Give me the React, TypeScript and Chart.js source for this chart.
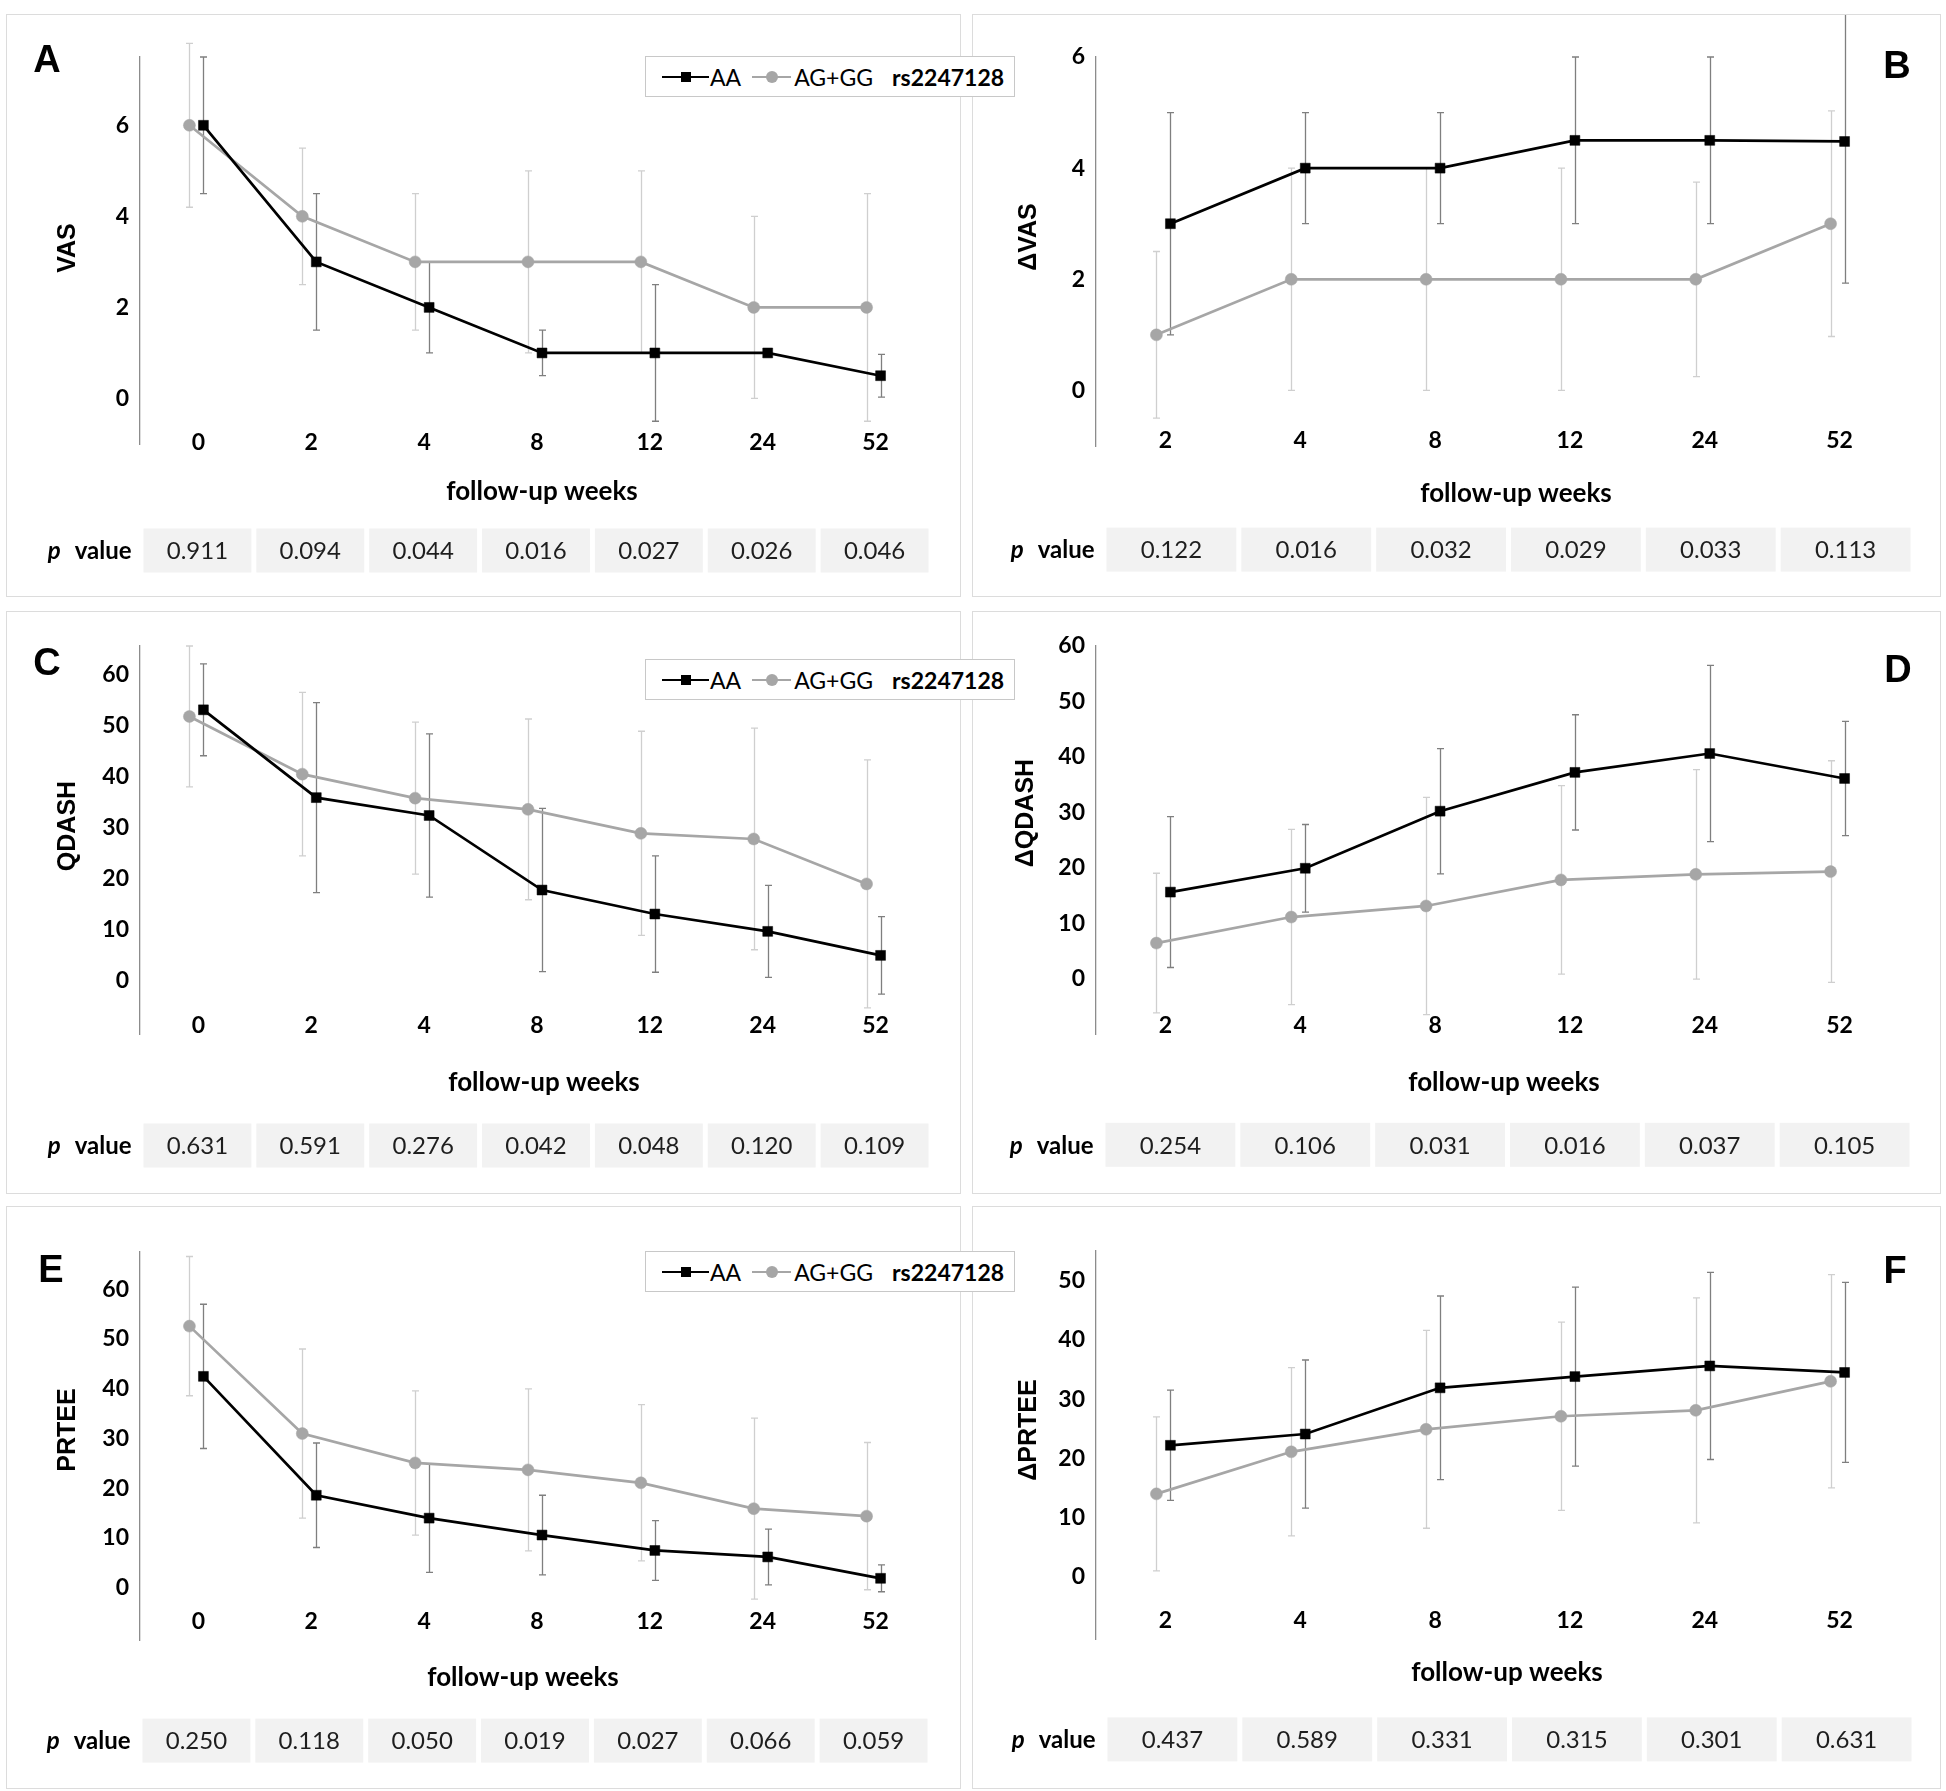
import React, { useEffect, useRef } from "react";
import { Chart, registerables } from "chart.js";

Chart.register(...registerables);

// ---------- data ----------
const WEEKS_ABS = ["0", "2", "4", "8", "12", "24", "52"];
const WEEKS_DELTA = ["2", "4", "8", "12", "24", "52"];
const SERIES_NAMES = ["AA", "AG+GG"];
const SNP = "rs2247128";
const X_TITLE = "follow-up weeks";

const VAS_AA = [6, 3, 2, 1, 1, 1, 0.5];
const VAS_AA_ERR = [1.5, 1.5, 1, 0.5, 1.5, 0, 0.47];
const VAS_AG = [6, 4, 3, 3, 3, 2, 2];
const VAS_AG_ERR = [1.8, 1.5, 1.5, 2, 2, 2, 2.5];
const VAS_P = ["0.911", "0.094", "0.044", "0.016", "0.027", "0.026", "0.046"];

const DVAS_AA = [3, 4, 4, 4.5, 4.5, 4.48];
const DVAS_AA_ERR = [2, 1, 1, 1.5, 1.5, 2.55];
const DVAS_AG = [1, 2, 2, 2, 2, 3];
const DVAS_AG_ERR = [1.5, 2, 2, 2, 1.75, 2.03];
const DVAS_P = ["0.122", "0.016", "0.032", "0.029", "0.033", "0.113"];

const QDASH_AA = [53, 35.8, 32.3, 17.7, 13.0, 9.6, 4.9];
const QDASH_AA_ERR = [9, 18.6, 16, 16, 11.4, 9, 7.6];
const QDASH_AG = [51.7, 40.4, 35.7, 33.5, 28.8, 27.7, 18.9];
const QDASH_AG_ERR = [13.8, 16, 14.9, 17.7, 20, 21.7, 24.3];
const QDASH_P = ["0.631", "0.591", "0.276", "0.042", "0.048", "0.120", "0.109"];

const DQDASH_AA = [15.6, 19.9, 30.2, 37.2, 40.6, 36.1];
const DQDASH_AA_ERR = [13.6, 7.9, 11.3, 10.4, 15.9, 10.3];
const DQDASH_AG = [6.4, 11.1, 13.1, 17.8, 18.8, 19.3];
const DQDASH_AG_ERR = [12.6, 15.8, 19.6, 17, 18.9, 20];
const DQDASH_P = ["0.254", "0.106", "0.031", "0.016", "0.037", "0.105"];

const PRTEE_AA = [42.5, 18.6, 14.0, 10.6, 7.5, 6.2, 1.9];
const PRTEE_AA_ERR = [14.5, 10.5, 10.9, 8, 6, 5.6, 2.7];
const PRTEE_AG = [52.6, 31.0, 25.1, 23.7, 21.1, 15.9, 14.4];
const PRTEE_AG_ERR = [14, 17, 14.5, 16.3, 15.7, 18.2, 14.8];
const PRTEE_P = ["0.250", "0.118", "0.050", "0.019", "0.027", "0.066", "0.059"];

const DPRTEE_AA = [22.2, 24.1, 31.9, 33.8, 35.6, 34.5];
const DPRTEE_AA_ERR = [9.3, 12.5, 15.5, 15.1, 15.8, 15.2];
const DPRTEE_AG = [14.0, 21.1, 24.9, 27.1, 28.1, 33.0];
const DPRTEE_AG_ERR = [13, 14.2, 16.7, 15.9, 19, 18];
const DPRTEE_P = ["0.437", "0.589", "0.331", "0.315", "0.301", "0.631"];

const TICKS_VAS = [0, 2, 4, 6];
const TICKS_60 = [0, 10, 20, 30, 40, 50, 60];
const TICKS_50 = [0, 10, 20, 30, 40, 50];

// ---------- layout / style ----------
const BLACK = "#000000";
const GREY = "#a6a6a6";
const ERR_BLACK = "#7f7f7f";
const ERR_GREY = "#cfcfcf";
const DODGE_PX = 7;
const FONT_CAL = "Lato, 'Open Sans', sans-serif";
const FONT_ARIAL = "'Liberation Sans', Arial, sans-serif";
const TICK_FONT_SIZE = 23;

type PanelCfg = {
  letter: string;
  box: [number, number, number, number]; // x, y, w, h
  area: [number, number, number, number]; // l, t, r, b (absolute)
  yMin: number;
  yMax: number;
  yTicks: number[];
  cats: string[];
  aa: number[];
  aaErr: number[];
  ag: number[];
  agErr: number[];
  p: string[];
  yTitle: string;
  yTitlePos: [number, number];
  letterPos: [number, number];
  xTitlePos: [number, number];
  xLabelY: number;
  pY: number;
  cellShift: number;
};

const PANELS: PanelCfg[] = [
  {
    letter: "A", box: [6, 14, 955, 583], area: [140, 57, 930, 444],
    yMin: -1, yMax: 7.5, yTicks: TICKS_VAS, cats: WEEKS_ABS,
    aa: VAS_AA, aaErr: VAS_AA_ERR, ag: VAS_AG, agErr: VAS_AG_ERR, p: VAS_P,
    yTitle: "VAS", yTitlePos: [68, 248], letterPos: [47, 62], xTitlePos: [542, 492],
    xLabelY: 443, pY: 550.5, cellShift: 1,
  },
  {
    letter: "B", box: [972, 14, 969, 583], area: [1096, 57, 1905, 446],
    yMin: -1, yMax: 6, yTicks: TICKS_VAS, cats: WEEKS_DELTA,
    aa: DVAS_AA, aaErr: DVAS_AA_ERR, ag: DVAS_AG, agErr: DVAS_AG_ERR, p: DVAS_P,
    yTitle: "ΔVAS", yTitlePos: [1029, 237], letterPos: [1897, 68], xTitlePos: [1516, 494],
    xLabelY: 441, pY: 549.6, cellShift: 8,
  },
  {
    letter: "C", box: [6, 611, 955, 583], area: [140, 646, 930, 1034],
    yMin: -10.5, yMax: 65.5, yTicks: TICKS_60, cats: WEEKS_ABS,
    aa: QDASH_AA, aaErr: QDASH_AA_ERR, ag: QDASH_AG, agErr: QDASH_AG_ERR, p: QDASH_P,
    yTitle: "QDASH", yTitlePos: [68, 826], letterPos: [47, 665], xTitlePos: [544, 1083],
    xLabelY: 1026, pY: 1145.5, cellShift: 1,
  },
  {
    letter: "D", box: [972, 611, 969, 583], area: [1096, 646, 1905, 1034],
    yMin: -10, yMax: 60, yTicks: TICKS_60, cats: WEEKS_DELTA,
    aa: DQDASH_AA, aaErr: DQDASH_AA_ERR, ag: DQDASH_AG, agErr: DQDASH_AG_ERR, p: DQDASH_P,
    yTitle: "ΔQDASH", yTitlePos: [1026, 813], letterPos: [1898, 672], xTitlePos: [1504, 1083],
    xLabelY: 1026, pY: 1144.8, cellShift: 7,
  },
  {
    letter: "E", box: [6, 1206, 955, 583], area: [140, 1252, 930, 1640],
    yMin: -10.5, yMax: 67.5, yTicks: TICKS_60, cats: WEEKS_ABS,
    aa: PRTEE_AA, aaErr: PRTEE_AA_ERR, ag: PRTEE_AG, agErr: PRTEE_AG_ERR, p: PRTEE_P,
    yTitle: "PRTEE", yTitlePos: [68, 1430], letterPos: [51, 1272], xTitlePos: [523, 1678],
    xLabelY: 1622, pY: 1740.6, cellShift: 0,
  },
  {
    letter: "F", box: [972, 1206, 969, 583], area: [1096, 1251, 1905, 1639],
    yMin: -10.5, yMax: 55, yTicks: TICKS_50, cats: WEEKS_DELTA,
    aa: DPRTEE_AA, aaErr: DPRTEE_AA_ERR, ag: DPRTEE_AG, agErr: DPRTEE_AG_ERR, p: DPRTEE_P,
    yTitle: "ΔPRTEE", yTitlePos: [1029, 1430], letterPos: [1895, 1273], xTitlePos: [1507, 1673],
    xLabelY: 1621, pY: 1739.4, cellShift: 9,
  },
];

const LEGEND_TOPS = [56, 659, 1251];

// ---------- plugins ----------
const errorBarPlugin = {
  id: "errorBars",
  beforeDatasetsDraw(chart: any) {
    const { ctx } = chart;
    const xs = chart.scales.x;
    const ys = chart.scales.y;
    const dsList = chart.data.datasets.slice().reverse();
    dsList.forEach((ds: any) => {
      const errs: number[] = ds.errors;
      if (!errs) return;
      ctx.save();
      ctx.strokeStyle = ds.errorColor;
      ctx.lineWidth = 1.3;
      ds.data.forEach((pt: any, i: number) => {
        const e = errs[i];
        if (!e) return;
        const px = Math.round(xs.getPixelForValue(pt.x)) + 0.5;
        const y1 = ys.getPixelForValue(pt.y + e);
        const y2 = ys.getPixelForValue(pt.y - e);
        ctx.beginPath();
        ctx.moveTo(px, y1);
        ctx.lineTo(px, y2);
        ctx.moveTo(px - 3.5, y1);
        ctx.lineTo(px + 3.5, y1);
        ctx.moveTo(px - 3.5, y2);
        ctx.lineTo(px + 3.5, y2);
        ctx.stroke();
      });
      ctx.restore();
    });
  },
};

const panelTextPlugin = {
  id: "panelText",
  afterDraw(chart: any, _args: any, opts: any) {
    const { ctx } = chart;
    const ox = opts.origin[0];
    const oy = opts.origin[1];
    const xs = chart.scales.x;
    ctx.save();
    ctx.fillStyle = "#000";
    ctx.textAlign = "center";
    ctx.textBaseline = "middle";

    // category labels (weeks) through the x scale
    ctx.font = `bold ${TICK_FONT_SIZE}px ${FONT_CAL}`;
    opts.cats.forEach((c: string, i: number) => {
      ctx.fillText(c, xs.getPixelForValue(i) + 2, opts.xLabelY - oy);
    });

    // panel letter
    ctx.font = `bold 38px ${FONT_ARIAL}`;
    ctx.fillText(opts.letter, opts.letterPos[0] - ox, opts.letterPos[1] - oy);

    // y title
    ctx.save();
    ctx.translate(opts.yTitlePos[0] - ox, opts.yTitlePos[1] - oy);
    ctx.rotate(-Math.PI / 2);
    ctx.font = `bold 25px ${FONT_ARIAL}`;
    ctx.fillText(opts.yTitle, 0, 0);
    ctx.restore();

    // x title
    ctx.font = `bold 26px ${FONT_CAL}`;
    ctx.fillText(opts.xTitle, opts.xTitlePos[0] - ox, opts.xTitlePos[1] - oy);

    // p-value row
    const step = xs.getPixelForValue(1) - xs.getPixelForValue(0);
    const cw = step - 5;
    const ch = 44;
    const cy = opts.pY - oy;
    opts.pValues.forEach((p: string, i: number) => {
      const cx = xs.getPixelForValue(i) + opts.cellShift;
      ctx.fillStyle = "#f2f2f2";
      ctx.fillRect(cx - cw / 2, cy - ch / 2, cw, ch);
      ctx.fillStyle = "#1e1e1e";
      ctx.font = `24px ${FONT_CAL}`;
      ctx.fillText(p, cx, cy + 1);
    });
    const firstLeft = xs.getPixelForValue(0) + opts.cellShift - cw / 2;
    ctx.fillStyle = "#000";
    ctx.textAlign = "right";
    ctx.font = `bold 24px ${FONT_CAL}`;
    const vx = firstLeft - 12;
    ctx.fillText("value", vx, cy + 1);
    const vw = ctx.measureText("value").width;
    ctx.font = `italic bold 24px ${FONT_CAL}`;
    ctx.fillText("p", vx - vw - 14, cy + 1);
    ctx.restore();
  },
};

// ---------- components ----------
function Panel({ cfg }: { cfg: PanelCfg }) {
  const ref = useRef<HTMLCanvasElement>(null);

  useEffect(() => {
    const canvas = ref.current;
    if (!canvas) return;
    const [bx, by, bw, bh] = cfg.box;
    const [al, at, ar, ab] = cfg.area;
    const n = cfg.cats.length;
    const dodge = (DODGE_PX * n) / (ar - al);

    const chart = new Chart(canvas, {
      type: "line",
      data: {
        datasets: [
          {
            label: SERIES_NAMES[0],
            data: cfg.aa.map((v, i) => ({ x: i + dodge, y: v })),
            borderColor: BLACK,
            backgroundColor: BLACK,
            borderWidth: 2.7,
            pointStyle: "rect",
            pointRadius: 7,
            pointBorderWidth: 0.5,
            pointBackgroundColor: BLACK,
            pointBorderColor: BLACK,
            tension: 0,
            clip: false,
            errors: cfg.aaErr,
            errorColor: ERR_BLACK,
          } as any,
          {
            label: SERIES_NAMES[1],
            data: cfg.ag.map((v, i) => ({ x: i - dodge, y: v })),
            borderColor: GREY,
            backgroundColor: GREY,
            borderWidth: 2.7,
            pointStyle: "circle",
            pointRadius: 6,
            pointBorderWidth: 0.5,
            pointBackgroundColor: GREY,
            pointBorderColor: GREY,
            tension: 0,
            clip: false,
            errors: cfg.agErr,
            errorColor: ERR_GREY,
          } as any,
        ],
      },
      options: {
        responsive: false,
        maintainAspectRatio: false,
        animation: false,
        devicePixelRatio: 1,
        layout: {
          padding: { left: 0, top: at - by, right: bx + bw - ar, bottom: 0 },
        },
        scales: {
          x: {
            type: "linear",
            min: -0.5,
            max: n - 0.5,
            afterBuildTicks: (s: any) => {
              s.ticks = cfg.cats.map((_, i) => ({ value: i }));
            },
            afterFit: (s: any) => {
              s.height = by + bh - ab;
            },
            ticks: { display: false },
            grid: { display: false, drawTicks: false },
            border: { display: false },
          },
          y: {
            type: "linear",
            min: cfg.yMin,
            max: cfg.yMax,
            afterBuildTicks: (s: any) => {
              s.ticks = cfg.yTicks.map((v) => ({ value: v }));
            },
            afterFit: (s: any) => {
              s.width = al - bx;
            },
            ticks: {
              padding: 11,
              color: "#000",
              font: { family: FONT_CAL, size: TICK_FONT_SIZE, weight: "bold" },
              callback: (v: any) => String(v),
            },
            grid: { display: false, drawTicks: false },
            border: { display: true, color: "#8c8c8c", width: 1.3 },
          },
        },
        plugins: {
          legend: { display: false },
          tooltip: { enabled: false },
          title: { display: false },
          panelText: {
            origin: [bx, by],
            letter: cfg.letter,
            letterPos: cfg.letterPos,
            yTitle: cfg.yTitle,
            yTitlePos: cfg.yTitlePos,
            xTitle: X_TITLE,
            xTitlePos: cfg.xTitlePos,
            cats: cfg.cats,
            xLabelY: cfg.xLabelY,
            pValues: cfg.p,
            pY: cfg.pY,
            cellShift: cfg.cellShift,
          },
        } as any,
      },
      plugins: [errorBarPlugin, panelTextPlugin],
    } as any);

    return () => {
      chart.destroy();
    };
  }, [cfg]);

  const [bx, by, bw, bh] = cfg.box;
  return (
    <>
      <canvas
        ref={ref}
        width={bw}
        height={bh}
        style={{ position: "absolute", left: bx, top: by, width: bw, height: bh }}
      />
      <div
        style={{
          position: "absolute",
          left: bx,
          top: by,
          width: bw,
          height: bh,
          boxSizing: "border-box",
          border: "1.5px solid #dcdcdc",
          pointerEvents: "none",
        }}
      />
    </>
  );
}

function Swatch({ color, shape, width }: { color: string; shape: "square" | "circle"; width: number }) {
  const size = shape === "square" ? 10 : 12;
  return (
    <span style={{ position: "relative", display: "inline-block", width, height: 14 }}>
      <span
        style={{
          position: "absolute",
          left: 0,
          top: 6,
          width,
          height: 2.5,
          background: color,
        }}
      />
      <span
        style={{
          position: "absolute",
          left: width / 2 - size / 2,
          top: 7.25 - size / 2,
          width: size,
          height: size,
          background: color,
          borderRadius: shape === "circle" ? "50%" : 0,
        }}
      />
    </span>
  );
}

function Legend({ top }: { top: number }) {
  return (
    <div
      style={{
        position: "absolute",
        left: 645,
        top,
        width: 370,
        height: 41,
        boxSizing: "border-box",
        border: "1.5px solid #c8c8c8",
        background: "#fff",
        display: "flex",
        alignItems: "center",
        paddingLeft: 16,
        fontFamily: FONT_CAL,
        fontSize: 23,
        color: "#000",
        whiteSpace: "nowrap",
        zIndex: 2,
      }}
    >
      <Swatch color={BLACK} shape="square" width={47} />
      <span style={{ marginLeft: 1 }}>{SERIES_NAMES[0]}</span>
      <span style={{ marginLeft: 11, display: "inline-flex" }}>
        <Swatch color={GREY} shape="circle" width={39} />
      </span>
      <span style={{ marginLeft: 3 }}>{SERIES_NAMES[1]}</span>
      <span style={{ marginLeft: 19, fontWeight: 700 }}>{SNP}</span>
    </div>
  );
}

export default function App() {
  return (
    <div
      style={{
        position: "absolute",
        left: 0,
        top: 0,
        width: 1946,
        height: 1791,
        background: "#ffffff",
        overflow: "hidden",
      }}
    >
      {PANELS.map((p) => (
        <Panel key={p.letter} cfg={p} />
      ))}
      {LEGEND_TOPS.map((t) => (
        <Legend key={t} top={t} />
      ))}
    </div>
  );
}
